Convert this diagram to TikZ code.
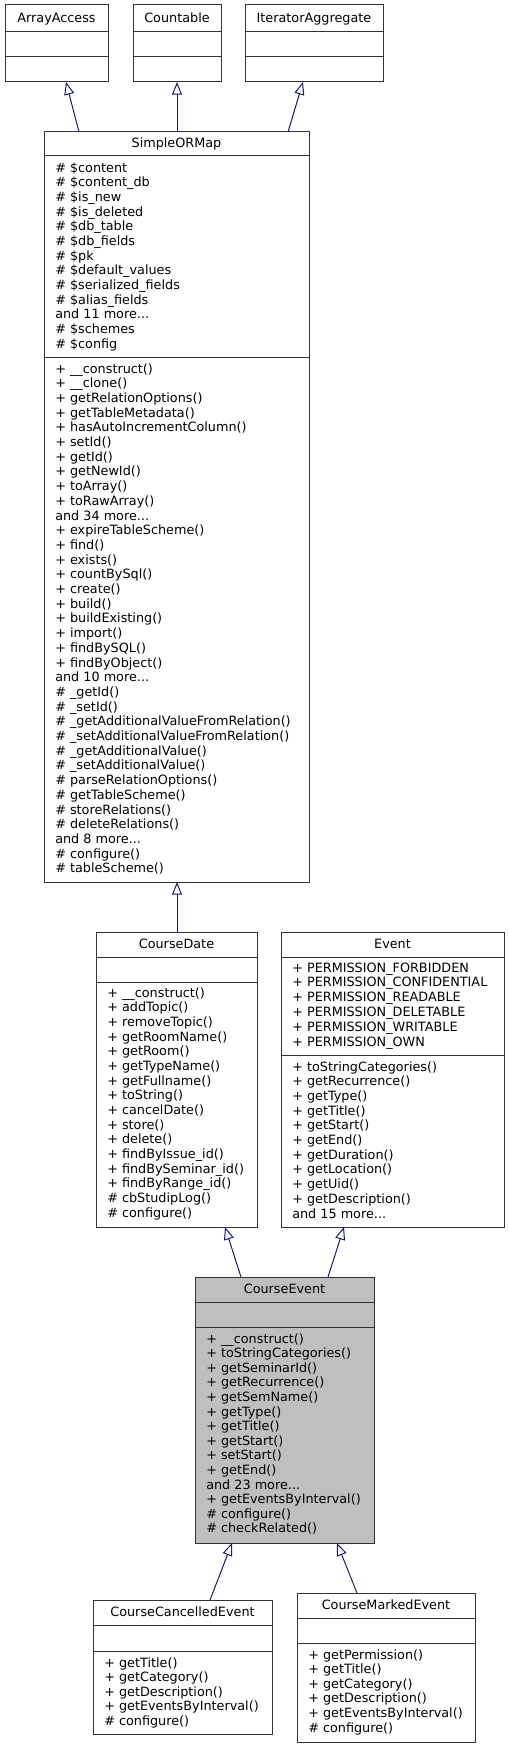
\documentclass[tikz,border=0pt]{standalone}
\usepackage{fontspec}
\setmainfont{DejaVu Sans}
\usetikzlibrary{arrows.meta,fit}
\definecolor{edgeblue}{HTML}{191970}
\definecolor{focusgray}{HTML}{BFBFBF}
\newcommand{\andmore}[1]{and #1 more...}

\begin{document}
\begin{tikzpicture}[x=0.75pt, y=-0.75pt,
        classbox/.style={draw=black!80, line width=0.75pt, inner sep=0pt, outer sep=0pt},
        divider/.style={draw=black!80, line width=0.75pt},
        classname/.style={anchor=base, inner sep=0pt, font=\fontsize{9.6}{11}\selectfont},
        member/.style={anchor=base west, inner sep=0pt, font=\fontsize{9.6}{11}\selectfont},
        derives/.style={draw=edgeblue, line width=0.75pt, -{Triangle[open, length=9.5pt, width=7.5pt]}}]

        \useasboundingbox (0,0) rectangle (509,1748);

        % interfaces
        \node[classbox, fit={(5,5) (108,82)}] (arrayaccess) {};
        \draw[divider] (5,32) -- (108,32);
        \draw[divider] (5,57) -- (108,57);
        \node[classname] (arrayaccess-name) at (56.5,22.5) {ArrayAccess};

        \node[classbox, fit={(133,5) (221,82)}] (countable) {};
        \draw[divider] (133,32) -- (221,32);
        \draw[divider] (133,57) -- (221,57);
        \node[classname] (countable-name) at (177,22.5) {Countable};

        \node[classbox, fit={(245,5) (383,82)}] (iteratoraggregate) {};
        \draw[divider] (245,32) -- (383,32);
        \draw[divider] (245,57) -- (383,57);
        \node[classname] (iteratoraggregate-name) at (314,22.5) {IteratorAggregate};

        % SimpleORMap
        \node[classbox, fit={(44,132) (309,882)}] (simpleormap) {};
        \draw[divider] (44,156) -- (309,156);
        \draw[divider] (44,357) -- (309,357);
        \node[classname] (simpleormap-name) at (176.5,148) {SimpleORMap};
        \foreach \t [count=\i from 0] in {\# \$content, \# \$content\_db, \# \$is\_new,
            \# \$is\_deleted, \# \$db\_table, \# \$db\_fields, \# \$pk, \# \$default\_values,
            \# \$serialized\_fields, \# \$alias\_fields, \andmore{11}, \# \$schemes, \# \$config} {
            \node[member] (simpleormap-a\i) at (55,172+14.67*\i) {\t};
        }
        \foreach \t [count=\i from 0] in {+ \_\_construct(), + \_\_clone(), + getRelationOptions(),
            + getTableMetadata(), + hasAutoIncrementColumn(), + setId(), + getId(), + getNewId(),
            + toArray(), + toRawArray(), \andmore{34}, + expireTableScheme(), + find(),
            + exists(), + countBySql(), + create(), + build(), + buildExisting(), + import(),
            + findBySQL(), + findByObject(), \andmore{10}, \# \_getId(), \# \_setId(),
            \# \_getAdditionalValueFromRelation(), \# \_setAdditionalValueFromRelation(),
            \# \_getAdditionalValue(), \# \_setAdditionalValue(), \# parseRelationOptions(),
            \# getTableScheme(), \# storeRelations(), \# deleteRelations(), \andmore{8},
            \# configure(), \# tableScheme()} {
            \node[member] (simpleormap-m\i) at (55,373+14.7*\i) {\t};
        }

        % CourseDate
        \node[classbox, fit={(96,932) (257,1227)}] (coursedate) {};
        \draw[divider] (96,957) -- (257,957);
        \draw[divider] (96,982) -- (257,982);
        \node[classname] (coursedate-name) at (176.5,948.5) {CourseDate};
        \foreach \t [count=\i from 0] in {+ \_\_construct(), + addTopic(), + removeTopic(),
            + getRoomName(), + getRoom(), + getTypeName(), + getFullname(), + toString(),
            + cancelDate(), + store(), + delete(), + findByIssue\_id(), + findBySeminar\_id(),
            + findByRange\_id(), \# cbStudipLog(), \# configure()} {
            \node[member] (coursedate-m\i) at (107,997+14.67*\i) {\t};
        }

        % Event
        \node[classbox, fit={(281,932) (504,1227)}] (event) {};
        \draw[divider] (281,957) -- (504,957);
        \draw[divider] (281,1055) -- (504,1055);
        \node[classname] (event-name) at (392.5,948.5) {Event};
        \foreach \t [count=\i from 0] in {+ PERMISSION\_FORBIDDEN, + PERMISSION\_CONFIDENTIAL,
            + PERMISSION\_READABLE, + PERMISSION\_DELETABLE, + PERMISSION\_WRITABLE,
            + PERMISSION\_OWN} {
            \node[member] (event-a\i) at (292,972+14.8*\i) {\t};
        }
        \foreach \t [count=\i from 0] in {+ toStringCategories(), + getRecurrence(), + getType(),
            + getTitle(), + getStart(), + getEnd(), + getDuration(), + getLocation(), + getUid(),
            + getDescription(), \andmore{15}} {
            \node[member] (event-m\i) at (292,1071+14.7*\i) {\t};
        }

        % CourseEvent
        \node[classbox, fill=focusgray, fit={(195,1277) (374,1543)}] (courseevent) {};
        \draw[divider] (195,1302) -- (374,1302);
        \draw[divider] (195,1327) -- (374,1327);
        \node[classname] (courseevent-name) at (284.5,1293.5) {CourseEvent};
        \foreach \t [count=\i from 0] in {+ \_\_construct(), + toStringCategories(),
            + getSeminarId(), + getRecurrence(), + getSemName(), + getType(), + getTitle(),
            + getStart(), + setStart(), + getEnd(), \andmore{23}, + getEventsByInterval(),
            \# configure(), \# checkRelated()} {
            \node[member] (courseevent-m\i) at (206,1343+14.6*\i) {\t};
        }

        % CourseCancelledEvent
        \node[classbox, fit={(93,1600) (272,1734)}] (coursecancelledevent) {};
        \draw[divider] (93,1625) -- (272,1625);
        \draw[divider] (93,1651) -- (272,1651);
        \node[classname] (coursecancelledevent-name) at (182.5,1616.5) {CourseCancelledEvent};
        \foreach \t [count=\i from 0] in {+ getTitle(), + getCategory(), + getDescription(),
            + getEventsByInterval(), \# configure()} {
            \node[member] (coursecancelledevent-m\i) at (104,1667+14.65*\i) {\t};
        }

        % CourseMarkedEvent
        \node[classbox, fit={(297,1593) (475,1742)}] (coursemarkedevent) {};
        \draw[divider] (297,1618) -- (475,1618);
        \draw[divider] (297,1643) -- (475,1643);
        \node[classname] (coursemarkedevent-name) at (386,1609.5) {CourseMarkedEvent};
        \foreach \t [count=\i from 0] in {+ getPermission(), + getTitle(), + getCategory(),
            + getDescription(), + getEventsByInterval(), \# configure()} {
            \node[member] (coursemarkedevent-m\i) at (308,1659+14.65*\i) {\t};
        }

        % inheritance
        \draw[derives] (simpleormap.north -| 79,0) -- (arrayaccess.south -| 66,0);
        \draw[derives] (simpleormap.north -| 177,0) -- (countable.south -| 177,0);
        \draw[derives] (simpleormap.north -| 288,0) -- (iteratoraggregate.south -| 303,0);
        \draw[derives] (coursedate.north -| 177,0) -- (simpleormap.south -| 177,0);
        \draw[derives] (courseevent.north -| 241,0) -- (coursedate.south -| 225,0);
        \draw[derives] (courseevent.north -| 328,0) -- (event.south -| 344,0);
        \draw[derives] (coursecancelledevent.north -| 210,0) -- (courseevent.south -| 232,0);
        \draw[derives] (coursemarkedevent.north -| 357,0) -- (courseevent.south -| 337,0);
    \end{tikzpicture}
\end{document}
